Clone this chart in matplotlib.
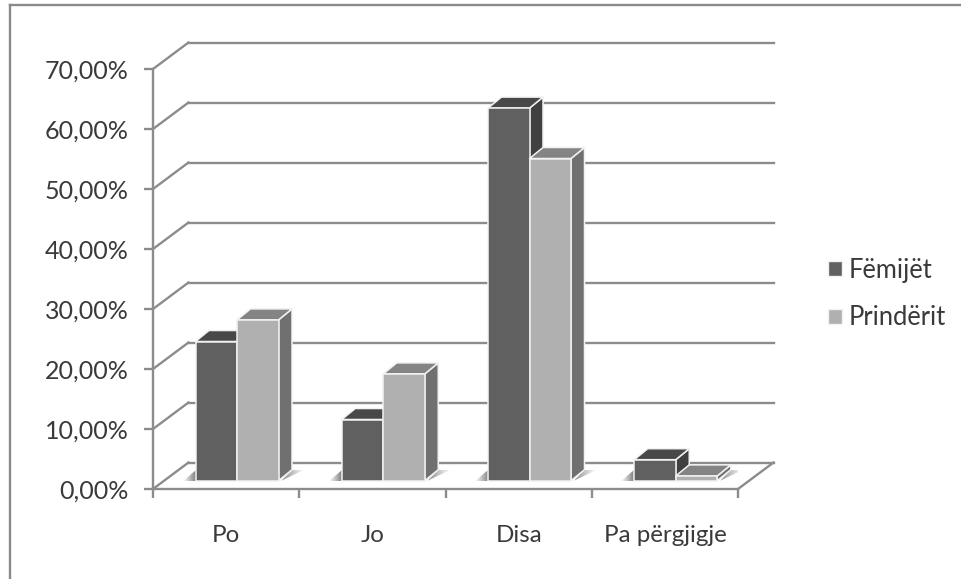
import matplotlib
matplotlib.use("Agg")
import matplotlib.pyplot as plt
import numpy as np
from matplotlib.lines import Line2D
from matplotlib.patches import Patch, Polygon

plt.rcParams["font.family"] = ["Lato", "DejaVu Sans"]

categories = ["Po", "Jo", "Disa", "Pa përgjigje"]
femijet = [23.2, 10.2, 62.1, 3.5]
prinderit = [26.8, 17.8, 53.7, 0.8]
y_ticks = [0, 10, 20, 30, 40, 50, 60, 70]
y_labels = ["0,00%", "10,00%", "20,00%", "30,00%", "40,00%", "50,00%", "60,00%", "70,00%"]

# one pixel in data units
px_x = 1 / 146.25
px_y = 1 / 6.0

grid_color = "#8c8c8c"
text_color = "#3a3a3a"
edge_color = "#f2f2f2"
dark = ("#606060", "#484848", "#404040")  # front, top, side
light = ("#b0b0b0", "#848484", "#707070")

wall_dx = 35.5 * px_x
wall_dy = 26.5 * px_y
bar_dx = 13.5 * px_x
bar_dy = 11 * px_y
bar_w = 41.5 * px_x
bar_left = 42.5 * px_x
base_y = 8.3 * px_y


def fade(ax, verts, x0, x1, level=0.5):
    # grey floor shadow, darkest at x0 and gone at x1
    a = np.linspace(level, 1, 64).reshape(1, -1)
    if x0 > x1:
        x0, x1 = x1, x0
        a = a[:, ::-1]
    ys = [v[1] for v in verts]
    im = ax.imshow(a, cmap="gray", vmin=0, vmax=1, aspect="auto", zorder=1.2,
                   extent=(x0, x1, min(ys), max(ys)), clip_on=True)
    poly = Polygon(verts, closed=True, transform=ax.transData, fill=False, edgecolor="none")
    ax.add_patch(poly)
    im.set_clip_path(poly)


def bar3d(ax, x, v, colors, z):
    x1 = x + bar_w
    y1 = base_y + v
    front = [(x, base_y), (x1, base_y), (x1, y1), (x, y1)]
    top = [(x, y1), (x1, y1), (x1 + bar_dx, y1 + bar_dy), (x + bar_dx, y1 + bar_dy)]
    side = [(x1, base_y), (x1 + bar_dx, base_y + bar_dy), (x1 + bar_dx, y1 + bar_dy), (x1, y1)]
    for verts, c in ((side, colors[2]), (top, colors[1]), (front, colors[0])):
        ax.add_patch(Polygon(verts, closed=True, facecolor=c, edgecolor=edge_color,
                             linewidth=1.1, joinstyle="round", zorder=z, clip_on=False))


fig = plt.figure(figsize=(9.61, 5.79), dpi=100)
ax = fig.add_axes([153 / 961, 90 / 579, 585 / 961, 420 / 579])

# back wall and floor lines
for v in y_ticks:
    ax.plot([0, wall_dx], [v, v + wall_dy], color=grid_color, lw=1.7, clip_on=False, zorder=1)
    ax.plot([wall_dx, 4 + wall_dx], [v + wall_dy, v + wall_dy], color=grid_color, lw=1.7,
            clip_on=False, zorder=1)
ax.plot([4, 4 + wall_dx], [0, wall_dy], color=grid_color, lw=1.7, clip_on=False, zorder=1)

ax.set_xlim(0, 4)
ax.set_ylim(0, 70)

for i in range(len(categories)):
    x = i + bar_left
    x_end = x + 2 * bar_w
    # floor shadows
    fade(ax, [(x - 13 * px_x, base_y), (x, base_y), (x, base_y + bar_dy)], x, x - 13 * px_x)
    fade(ax, [(x_end + 3 * px_x, base_y), (x_end + 26 * px_x, base_y + bar_dy),
              (x_end + bar_dx, base_y + bar_dy)], x_end, x_end + 26 * px_x)
    bar3d(ax, x, femijet[i], dark, 3 + i)
    bar3d(ax, x + bar_w, prinderit[i], light, 3.5 + i)

ax.set_xlim(0, 4)
ax.set_ylim(0, 70)
ax.patch.set_visible(False)

for s in ("top", "right"):
    ax.spines[s].set_visible(False)
for s in ("left", "bottom"):
    ax.spines[s].set_color(grid_color)
    ax.spines[s].set_linewidth(1.7)

ax.set_yticks(y_ticks)
ax.set_yticklabels(y_labels)
ax.set_xticks(range(5))
ax.set_xticklabels([])
ax.set_xticks([i + 0.5 for i in range(4)], minor=True)
ax.set_xticklabels(categories, minor=True)
ax.tick_params(axis="x", which="major", length=6.5, width=1.7, color=grid_color)
ax.tick_params(axis="x", which="minor", length=0, pad=26, labelsize=17.4, labelcolor=text_color)
ax.tick_params(axis="y", length=6.5, width=1.7, color=grid_color, pad=11,
               labelsize=18, labelcolor=text_color)

handles = [Patch(facecolor=dark[0], edgecolor=edge_color, label="Fëmijët"),
           Patch(facecolor=light[0], edgecolor=edge_color, label="Prindërit")]
ax.legend(handles=handles, loc="center left", bbox_to_anchor=(828 / 961, 1 - 294 / 579),
          bbox_transform=fig.transFigure, frameon=False, fontsize=18.4, labelcolor=text_color,
          handlelength=0.55, handleheight=0.55, handletextpad=0.25, labelspacing=0.88,
          borderpad=0, borderaxespad=0)

# outer frame, cut off by the picture on the right and at the bottom
fig.add_artist(Line2D([10 / 961, 10 / 961], [0, 1 - 5 / 579], color="#8a8a8a", lw=1.7))
fig.add_artist(Line2D([10 / 961, 1], [1 - 5 / 579, 1 - 5 / 579], color="#8a8a8a", lw=1.7))

fig.savefig("out.png", dpi=100)
